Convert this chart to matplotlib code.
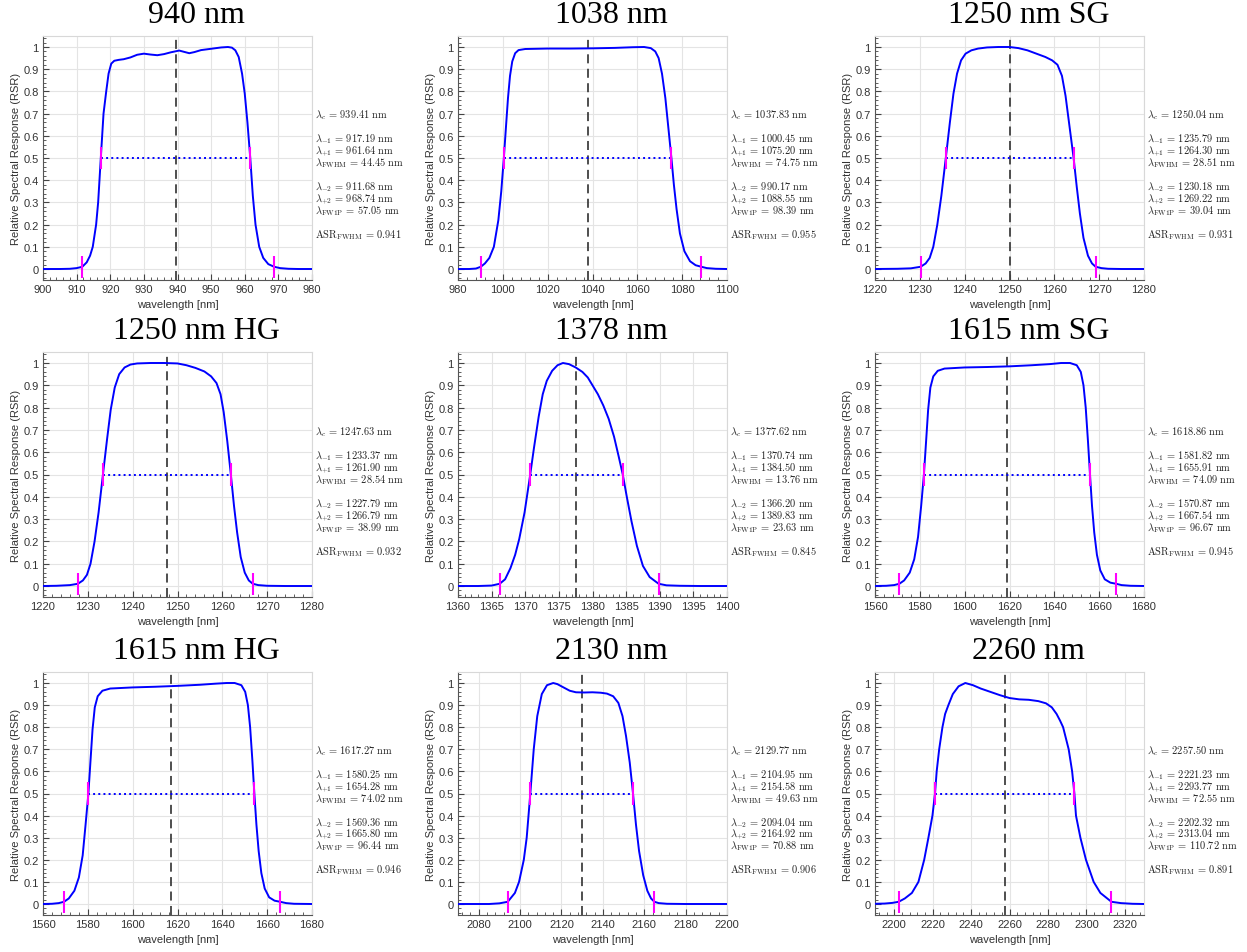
import matplotlib
matplotlib.use("Agg")
import matplotlib.pyplot as plt
from matplotlib.ticker import MultipleLocator, AutoMinorLocator, FuncFormatter

plt.rcParams['font.family'] = ['Liberation Sans', 'DejaVu Sans']
plt.rcParams['mathtext.fontset'] = 'cm'

# -----------------------------
# band data
# -----------------------------
titles = ["940 nm", "1038 nm", "1250 nm SG",
          "1250 nm HG", "1378 nm", "1615 nm SG",
          "1615 nm HG", "2130 nm", "2260 nm"]

xlims = [(900, 980), (980, 1100), (1220, 1280),
         (1220, 1280), (1360, 1400), (1560, 1680),
         (1560, 1680), (2070, 2200), (2190, 2330)]
xsteps = [10, 20, 10, 10, 5, 20, 20, 20, 20]

lam_c = [939.41, 1037.83, 1250.04, 1247.63, 1377.62, 1618.86, 1617.27, 2129.77, 2257.50]
lam_m1 = [917.19, 1000.45, 1235.79, 1233.37, 1370.74, 1581.82, 1580.25, 2104.95, 2221.23]
lam_p1 = [961.64, 1075.20, 1264.30, 1261.90, 1384.50, 1655.91, 1654.28, 2154.58, 2293.77]
fwhm = [44.45, 74.75, 28.51, 28.54, 13.76, 74.09, 74.02, 49.63, 72.55]
lam_m2 = [911.68, 990.17, 1230.18, 1227.79, 1366.20, 1570.87, 1569.36, 2094.04, 2202.32]
lam_p2 = [968.74, 1088.55, 1269.22, 1266.79, 1389.83, 1667.54, 1665.80, 2164.92, 2313.04]
fw1p = [57.05, 98.39, 39.04, 38.99, 23.63, 96.67, 96.44, 70.88, 110.72]
asr = [0.941, 0.955, 0.931, 0.932, 0.845, 0.945, 0.946, 0.906, 0.891]

wl_940 = [900, 905, 908, 910, 911.68, 913, 914, 914.8, 915.8, 916.4, 917.19, 918.0, 918.8,
          919.5, 920.3, 921.2, 922.5, 924, 926, 928, 930, 932, 934, 936, 938, 940.5, 942,
          943.5, 945, 947, 949, 951, 953, 955, 956.2, 957.2, 958.2, 959.2, 960.0, 960.8,
          961.64, 962.4, 963.2, 964.3, 965.5, 967, 968.74, 970.5, 973, 976, 980]
rsr_940 = [0, 0, 0.001, 0.004, 0.01, 0.03, 0.06, 0.1, 0.2, 0.3, 0.5, 0.7, 0.8,
           0.88, 0.925, 0.938, 0.942, 0.945, 0.953, 0.965, 0.970, 0.966, 0.963, 0.968, 0.976,
           0.984, 0.978, 0.972, 0.977, 0.986, 0.99, 0.994, 0.998, 1.0, 0.997, 0.985, 0.955,
           0.88, 0.79, 0.66, 0.5, 0.33, 0.2, 0.1, 0.05, 0.022, 0.01, 0.004, 0.001, 0, 0]

wl_1038 = [980, 985, 988, 990.17, 992, 994, 996, 998, 999.3, 1000.45, 1001.4, 1002.3, 1003.2,
           1004.2, 1005.5, 1007, 1010, 1020, 1030, 1040, 1050, 1058, 1063, 1066, 1068,
           1069.5, 1071, 1072.5, 1074, 1075.2, 1076.3, 1077.5, 1079, 1081, 1083.5, 1086,
           1088.55, 1091, 1095, 1100]
rsr_1038 = [0, 0, 0.002, 0.01, 0.025, 0.05, 0.1, 0.22, 0.35, 0.5, 0.64, 0.77, 0.87,
            0.935, 0.972, 0.986, 0.991, 0.993, 0.993, 0.994, 0.996, 0.999, 1.0, 0.995, 0.98,
            0.95, 0.88, 0.77, 0.62, 0.5, 0.38, 0.27, 0.16, 0.08, 0.035, 0.017,
            0.01, 0.004, 0.001, 0]

wl_1250sg = [1220, 1225, 1228, 1230.18, 1231.3, 1232.2, 1233.0, 1233.9, 1234.8, 1235.79,
             1236.7, 1237.5, 1238.3, 1239.2, 1240.2, 1241.5, 1243, 1245, 1247.5, 1250, 1252,
             1254, 1256, 1258, 1259.5, 1260.7, 1261.7, 1262.5, 1263.4, 1264.3, 1265.0,
             1265.7, 1266.5, 1267.5, 1268.4, 1269.22, 1270.5, 1272, 1275, 1280]
rsr_1250sg = [0, 0.001, 0.003, 0.01, 0.025, 0.05, 0.1, 0.2, 0.33, 0.5,
              0.66, 0.79, 0.88, 0.94, 0.97, 0.985, 0.993, 0.998, 1.0, 1.0, 0.995,
              0.985, 0.97, 0.955, 0.94, 0.92, 0.87, 0.78, 0.64, 0.5, 0.37,
              0.25, 0.14, 0.06, 0.025, 0.01, 0.004, 0.001, 0, 0]

wl_1250hg = [1220, 1223, 1226, 1227.79, 1228.9, 1229.8, 1230.6, 1231.5, 1232.4, 1233.37,
             1234.3, 1235.1, 1236.0, 1237.0, 1238.2, 1239.5, 1241, 1244, 1247, 1250, 1252,
             1254, 1256, 1257.5, 1258.7, 1259.6, 1260.3, 1261.1, 1261.9, 1262.6, 1263.3,
             1264.1, 1265.0, 1265.9, 1266.79, 1268, 1270, 1274, 1280]
rsr_1250hg = [0, 0.001, 0.004, 0.01, 0.025, 0.05, 0.1, 0.2, 0.33, 0.5,
              0.66, 0.79, 0.89, 0.95, 0.98, 0.993, 0.998, 1.0, 1.0, 0.998, 0.99,
              0.978, 0.962, 0.94, 0.91, 0.86, 0.78, 0.65, 0.5, 0.36, 0.24,
              0.13, 0.06, 0.025, 0.01, 0.004, 0.001, 0, 0]

wl_1378 = [1360, 1363, 1365, 1366.2, 1367, 1367.8, 1368.5, 1369.1, 1369.9, 1370.74, 1371.3,
           1372.0, 1372.6, 1373.2, 1374.0, 1374.8, 1375.6, 1376.5, 1377.5, 1378.5, 1379.3,
           1380.0, 1380.8, 1381.6, 1382.4, 1383.2, 1383.9, 1384.5, 1385.1, 1385.8, 1386.6,
           1387.5, 1388.5, 1389.83, 1391, 1393, 1396, 1400]
rsr_1378 = [0, 0, 0.002, 0.01, 0.03, 0.08, 0.14, 0.21, 0.33, 0.5, 0.62,
            0.76, 0.86, 0.92, 0.965, 0.99, 1.0, 0.995, 0.98, 0.96, 0.935,
            0.9, 0.86, 0.81, 0.75, 0.67, 0.58, 0.5, 0.4, 0.29, 0.18,
            0.09, 0.04, 0.01, 0.003, 0.001, 0, 0]

wl_1615sg = [1560, 1565, 1568.5, 1570.87, 1573, 1575.5, 1577.5, 1579.2, 1580.6, 1581.82,
             1582.8, 1583.7, 1584.7, 1586, 1588, 1591, 1600, 1610, 1620, 1630, 1638, 1643,
             1647, 1650, 1651.8, 1653.0, 1654.0, 1655.0, 1655.91, 1656.8, 1657.8, 1659,
             1660.5, 1662.5, 1665, 1667.54, 1670, 1674, 1680]
rsr_1615sg = [0, 0.001, 0.004, 0.01, 0.025, 0.06, 0.12, 0.22, 0.36, 0.5,
              0.65, 0.79, 0.89, 0.94, 0.965, 0.975, 0.98, 0.982, 0.985, 0.99, 0.995, 1.0,
              1.0, 0.99, 0.96, 0.9, 0.8, 0.65, 0.5, 0.36, 0.24, 0.14,
              0.07, 0.03, 0.015, 0.01, 0.004, 0.001, 0]

wl_1615hg = [1560, 1564, 1567, 1569.36, 1571.5, 1574, 1576, 1577.7, 1579.0, 1580.25,
             1581.2, 1582.1, 1583.1, 1584.4, 1586.5, 1590, 1600, 1610, 1620, 1630, 1637,
             1642, 1645.5, 1648.5, 1650.2, 1651.4, 1652.4, 1653.4, 1654.28, 1655.2, 1656.2,
             1657.4, 1658.9, 1660.9, 1663.3, 1665.8, 1668.5, 1672, 1680]
rsr_1615hg = [0, 0.001, 0.004, 0.01, 0.025, 0.06, 0.12, 0.22, 0.36, 0.5,
              0.65, 0.79, 0.89, 0.94, 0.965, 0.975, 0.98, 0.983, 0.987, 0.992, 0.997,
              1.0, 1.0, 0.99, 0.96, 0.9, 0.8, 0.65, 0.5, 0.36, 0.24,
              0.14, 0.07, 0.03, 0.015, 0.01, 0.004, 0.001, 0]

wl_2130 = [2070, 2085, 2090, 2094.04, 2097.5, 2099.5, 2101.8, 2103.2, 2104.95, 2106.6,
           2108.3, 2110.5, 2113, 2116, 2118, 2121, 2124, 2127, 2131, 2135, 2139, 2142,
           2145, 2147.5, 2149.5, 2151.2, 2153, 2154.58, 2156, 2157.5, 2159.5, 2161.5,
           2163.3, 2164.92, 2167, 2171, 2180, 2200]
rsr_2130 = [0, 0, 0.003, 0.01, 0.05, 0.1, 0.2, 0.3, 0.5, 0.7,
            0.85, 0.95, 0.99, 1.0, 0.995, 0.98, 0.965, 0.958, 0.957, 0.958, 0.956, 0.952,
            0.94, 0.91, 0.85, 0.76, 0.64, 0.5, 0.36, 0.24, 0.13, 0.06,
            0.025, 0.01, 0.004, 0.001, 0, 0]

wl_2260 = [2190, 2195, 2199, 2202.32, 2205.5, 2209.2, 2212.6, 2215.6, 2217.8, 2219.9,
           2221.23, 2222.1, 2223.4, 2225.1, 2226.5, 2228.2, 2230.5, 2233.5, 2237, 2241,
           2245, 2250, 2255, 2260, 2265, 2270, 2275, 2279, 2282, 2284.5, 2286.3, 2287.9,
           2290.8, 2292.6, 2293.77, 2294.6, 2296.9, 2299.8, 2303.8, 2307.3, 2313.04,
           2318, 2324, 2330]
rsr_2260 = [0.001, 0.002, 0.005, 0.01, 0.025, 0.05, 0.1, 0.2, 0.3, 0.4,
            0.5, 0.6, 0.7, 0.8, 0.86, 0.9, 0.95, 0.985, 1.0, 0.99,
            0.975, 0.96, 0.945, 0.932, 0.926, 0.924, 0.918, 0.908, 0.89, 0.86, 0.83, 0.8,
            0.7, 0.6, 0.5, 0.4, 0.3, 0.2, 0.1, 0.05, 0.01,
            0.004, 0.001, 0.0]

curves = [(wl_940, rsr_940), (wl_1038, rsr_1038), (wl_1250sg, rsr_1250sg),
          (wl_1250hg, rsr_1250hg), (wl_1378, rsr_1378), (wl_1615sg, rsr_1615sg),
          (wl_1615hg, rsr_1615hg), (wl_2130, rsr_2130), (wl_2260, rsr_2260)]

# -----------------------------
# layout (pixels)
# -----------------------------
W, H = 1247, 953
col_left = [43, 458, 875]
ax_w = 269
rows_y = [(48, 270), (364, 587), (684, 905)]   # pixel rows of y=1 and y=0

fig = plt.figure(figsize=(W / 100, H / 100), dpi=100)

for i in range(9):
    r, c = divmod(i, 3)
    y1, y0 = rows_y[r]
    span = y0 - y1
    top = y1 - 0.05 * span
    bot = y0 + 0.05 * span
    ax = fig.add_axes([col_left[c] / W, (H - bot) / H, ax_w / W, (bot - top) / H])

    wl, rsr = curves[i]
    ax.plot(wl, rsr, color='#0000ff', lw=1.4, zorder=3)
    ax.axvline(lam_c[i], color='#404040', lw=1.3, ls=(0, (5, 3)), zorder=2)
    ax.plot([lam_m1[i], lam_p1[i]], [0.5, 0.5], color='#0000ff', lw=1.4, ls=':', zorder=3)
    ax.vlines([lam_m1[i], lam_p1[i]], 0.45, 0.55, color='#ff00ff', lw=1.5, zorder=4)
    ax.vlines([lam_m2[i], lam_p2[i]], -0.04, 0.06, color='#ff00ff', lw=1.5, zorder=4)

    ax.set_xlim(*xlims[i])
    ax.set_ylim(-0.05, 1.05)
    ax.xaxis.set_major_locator(MultipleLocator(xsteps[i]))
    ax.xaxis.set_minor_locator(AutoMinorLocator(5))
    ax.yaxis.set_major_locator(MultipleLocator(0.1))
    ax.yaxis.set_minor_locator(AutoMinorLocator(5))
    ax.yaxis.set_major_formatter(FuncFormatter(lambda v, p: f"{round(v, 2):g}"))
    ax.grid(True, which='major', color='#e4e4e4', lw=0.8, zorder=0)
    ax.tick_params(which='both', direction='in', labelsize=8, colors='#444444',
                   labelcolor='#333333', pad=3)
    ax.tick_params(which='major', length=4)
    ax.tick_params(which='minor', length=2)
    for s in ('left', 'bottom'):
        ax.spines[s].set_color('#555555')
        ax.spines[s].set_linewidth(0.8)
    for s in ('top', 'right'):
        ax.spines[s].set_color('#d8d8d8')
        ax.spines[s].set_linewidth(0.8)

    ax.set_xlabel("wavelength [nm]", fontsize=8, color='#333333')
    ax.set_ylabel("Relative Spectral Response (RSR)", fontsize=8, color='#333333')
    ax.xaxis.set_label_coords(0.5, -0.098)
    ax.xaxis.label.set_verticalalignment('center')
    ax.yaxis.set_label_coords(-0.1, 0.5)
    ax.yaxis.label.set_verticalalignment('center')

    ax.text(0.5 + 19 / ax_w, 1 + 21 / (bot - top), titles[i], transform=ax.transAxes,
            ha='center', va='center', fontsize=23, family='Liberation Serif')

    lines = [
        (0, rf"$\lambda_c\,=\,{lam_c[i]:.2f}\ \mathrm{{nm}}$"),
        (2, rf"$\lambda_{{-1}}\,=\,{lam_m1[i]:.2f}\ \mathrm{{nm}}$"),
        (3, rf"$\lambda_{{+1}}\,=\,{lam_p1[i]:.2f}\ \mathrm{{nm}}$"),
        (4, rf"$\lambda_{{\mathrm{{FWHM}}}}\,=\,{fwhm[i]:.2f}\ \mathrm{{nm}}$"),
        (6, rf"$\lambda_{{-2}}\,=\,{lam_m2[i]:.2f}\ \mathrm{{nm}}$"),
        (7, rf"$\lambda_{{+2}}\,=\,{lam_p2[i]:.2f}\ \mathrm{{nm}}$"),
        (8, rf"$\lambda_{{\mathrm{{FW1P}}}}\,=\,{fw1p[i]:.2f}\ \mathrm{{nm}}$"),
        (10, rf"$\mathrm{{ASR}}_{{\mathrm{{FWHM}}}}\,=\,{asr[i]:.3f}$"),
    ]
    for k, s in lines:
        ax.text(1.012, 0.678 - 0.049 * k, s, transform=ax.transAxes,
                ha='left', va='center', fontsize=7.5, color='#222222')

fig.savefig("out.png", dpi=100)
